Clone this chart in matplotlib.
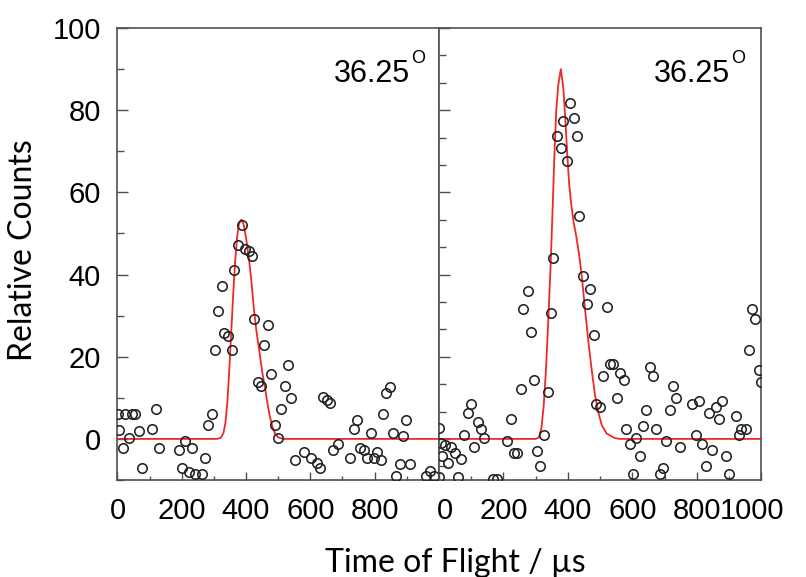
import matplotlib
matplotlib.use("Agg")
import matplotlib.pyplot as plt
from matplotlib.ticker import FixedLocator, MultipleLocator
import matplotlib.transforms as mtransforms

# ---------------- data ----------------
left_t = [3, 22, 45, 55, 6, 16, 36, 68, 77, 106, 120, 129, 190, 200, 210, 221, 231, 241,
          262, 273, 281, 293, 304, 312, 325, 333, 345, 356, 364, 374, 387, 397, 410, 418,
          425, 437, 447, 456, 468, 478, 489, 499, 509, 520, 530, 540, 551, 582, 603, 620,
          631, 641, 652, 662, 672, 685, 724, 735, 745, 755, 768, 776, 789, 797, 807, 820,
          826, 836, 849, 859, 868, 880, 890, 899, 911, 961, 974, 984]
left_v = [6.0, 6.0, 6.0, 6.0, 2.1, -2.1, 0.1, 2.0, -7.2, 2.5, 7.2, -2.1, -2.7, -7.2, -0.5,
          -8.0, -2.1, -8.6, -8.6, -4.6, 3.3, 6.0, 21.7, 31.2, 37.1, 25.7, 25.0, 21.7, 41.0,
          47.1, 52.1, 46.3, 45.7, 44.4, 29.2, 13.9, 12.8, 22.9, 27.7, 15.9, 3.3, 0.1, 7.2,
          12.8, 18.0, 9.9, -5.2, -3.3, -4.6, -5.9, -7.2, 10.1, 9.5, 8.7, -2.7, -1.3, -4.6,
          2.5, 4.6, -2.1, -2.7, -4.6, 1.4, -4.6, -3.3, -5.2, 6.0, 11.1, 12.7, 1.4, -9.0,
          -6.0, 0.7, 4.6, -6.0, -9.0, -7.8, -9.0]

fitL_t = [0, 310, 322, 330, 336, 342, 348, 354, 360, 366, 372, 378, 384, 388, 393, 400,
          408, 416, 424, 432, 442, 451, 460, 467, 474, 482, 490, 500, 515, 1000]
fitL_v = [0, 0, 0.3, 1.5, 4, 9, 17, 26, 35, 43, 49, 52.3, 53.3, 53.2, 52, 49, 44.5, 39,
          32, 26.5, 21, 16, 12, 8.5, 5.5, 3, 1.3, 0.4, 0, 0]

right_t = [1, 6, 20, 9, 27, 37, 50, 68, 58, 1, 79, 89, 99, 110, 120, 130, 141, 168, 180,
           211, 224, 234, 242, 255, 262, 275, 286, 294, 304, 315, 325, 338, 347, 355, 367,
           378, 386, 397, 407, 419, 428, 436, 448, 459, 467, 481, 488, 501, 509, 521, 529,
           541, 552, 562, 574, 581, 591, 601, 612, 622, 633, 643, 653, 664, 674, 684, 695,
           705, 715, 726, 736, 746, 786, 796, 807, 817, 827, 838, 848, 858, 869, 879, 889,
           900, 920, 931, 938, 951, 961, 971, 981, 992, 1000]
right_v = [3.9, -1.6, -2.2, -6.2, -8.7, -3.0, -5.2, -7.4, -13.8, -13.8, 1.5, 9.4, 12.8,
           -3.0, 6.1, 3.7, 0.5, -14.8, -14.8, -0.7, 7.2, -5.2, -5.2, 18.2, 47.3, 54.0, 39.0,
           21.6, -4.3, -9.8, 1.5, 17.3, 46.0, 66.2, 110.5, 106.2, 115.9, 101.6, 122.7,
           117.1, 110.5, 81.4, 59.5, 49.3, 54.8, 38.1, 12.8, 11.6, 22.8, 48.2, 27.4, 27.4,
           14.9, 24.0, 21.6, 3.7, -1.8, -12.8, 0.5, -6.2, 4.8, 10.4, 26.3, 22.8, 3.7,
           -12.8, -10.7, -0.7, 10.4, 19.4, 14.9, -3.0, 12.8, 1.5, 13.7, -1.8, -9.8, 9.4,
           -4.0, 11.6, 7.2, 13.7, -6.2, -12.8, 8.2, 1.5, 3.7, 3.7, 32.3, 47.3, 43.8, 25.0,
           20.6]

fitR_t = [0, 300, 310, 318, 325, 332, 340, 347, 353, 358, 364, 370, 378, 386, 392, 398,
          404, 410, 418, 426, 435, 443, 453, 464, 474, 484, 495, 505, 520, 545, 560, 1000]
fitR_v = [0, 0, 0.5, 4, 12, 25, 45, 65, 85, 103, 120, 129, 135, 128, 117, 104, 93, 86,
          79, 74, 67, 59.5, 47.5, 35, 25, 16, 9.4, 5, 2, 0.3, 0, 0]

left_xticks = [0, 200, 400, 600, 800]
right_xticks = [0, 200, 400, 600, 800, 1000]
left_yticks = [0, 20, 40, 60, 80, 100]
angle_label = "36.25"

# ---------------- figure ----------------
W, H, DPI = 806, 577, 100
fig = plt.figure(figsize=(W / DPI, H / DPI), dpi=DPI)
fig.patch.set_facecolor("white")

def px_box(x0, x1, y0, y1):
    return [x0 / W, 1 - y1 / H, (x1 - x0) / W, (y1 - y0) / H]

axL = fig.add_axes(px_box(117.5, 438.8, 28, 480))
axR = fig.add_axes(px_box(438.8, 761.5, 28, 480))

tick_font = dict(family=["Liberation Sans", "DejaVu Sans"], size=21)
spine_col = "#505050"
mk = dict(linestyle="none", marker="o", markerfacecolor="none",
          markeredgecolor="#222222", markersize=6.8, markeredgewidth=1.15)
red = "#f02828"

for ax, t, v, ft, fv in [(axL, left_t, left_v, fitL_t, fitL_v),
                         (axR, right_t, right_v, fitR_t, fitR_v)]:
    ax.plot(ft, fv, color=red, lw=1.3, zorder=2, clip_on=True)
    ax.plot(t, v, zorder=3, clip_on=True, **mk)
    ax.set_xlim(0, 1000)
    for s in ax.spines.values():
        s.set_color(spine_col)
        s.set_linewidth(1.2)
    ax.xaxis.set_minor_locator(MultipleLocator(100))
    ax.tick_params(axis="both", which="both", direction="in", color=spine_col,
                   top=False, right=False, width=1.0)
    ax.tick_params(axis="x", which="major", length=6, pad=12)
    ax.tick_params(axis="x", which="minor", length=3)
    ax.tick_params(axis="y", which="major", length=8, pad=12)
    ax.tick_params(axis="y", which="minor", length=5)

# left panel
axL.set_ylim(-10, 100)
axL.xaxis.set_major_locator(FixedLocator(left_xticks))
axL.yaxis.set_major_locator(FixedLocator(left_yticks))
axL.yaxis.set_minor_locator(MultipleLocator(10))
axL.set_xticklabels([str(x) for x in left_xticks], **tick_font)
axL.set_yticklabels([str(y) for y in left_yticks], **tick_font)

# right panel (own y scale, unlabeled ticks)
axR.set_ylim(-15, 150)
axR.xaxis.set_major_locator(FixedLocator(right_xticks))
axR.yaxis.set_major_locator(MultipleLocator(30))
axR.yaxis.set_minor_locator(MultipleLocator(10))
axR.set_xticklabels([str(x) for x in right_xticks], **tick_font)
axR.tick_params(axis="y", labelleft=False)

labs = axR.get_xticklabels()
labs[0].set_transform(labs[0].get_transform() +
                      mtransforms.ScaledTranslation(6 / DPI, 0, fig.dpi_scale_trans))
labs[-1].set_transform(labs[-1].get_transform() +
                       mtransforms.ScaledTranslation(-9 / DPI, 0, fig.dpi_scale_trans))

# angle annotations
ann_font = dict(family=["Liberation Sans", "DejaVu Sans"])
for ax, xr in [(axL, 0.911), (axR, 0.902)]:
    ax.text(xr, 0.881, angle_label, transform=ax.transAxes, ha="right", va="baseline",
            fontsize=22, **ann_font)
    ax.text(xr + 0.004, 0.922, "O", transform=ax.transAxes, ha="left", va="baseline",
            fontsize=13, **ann_font)

# axis titles
lab_font = dict(family=["Lato", "Open Sans", "DejaVu Sans"], size=23)
fig.text(455 / W, 1 - 572 / H, "Time of Flight / µs", ha="center", va="baseline",
         **lab_font)
fig.text(23 / W, 1 - 250 / H, "Relative Counts", ha="center", va="center",
         rotation=90, **lab_font)

fig.savefig("out.png", dpi=DPI)
